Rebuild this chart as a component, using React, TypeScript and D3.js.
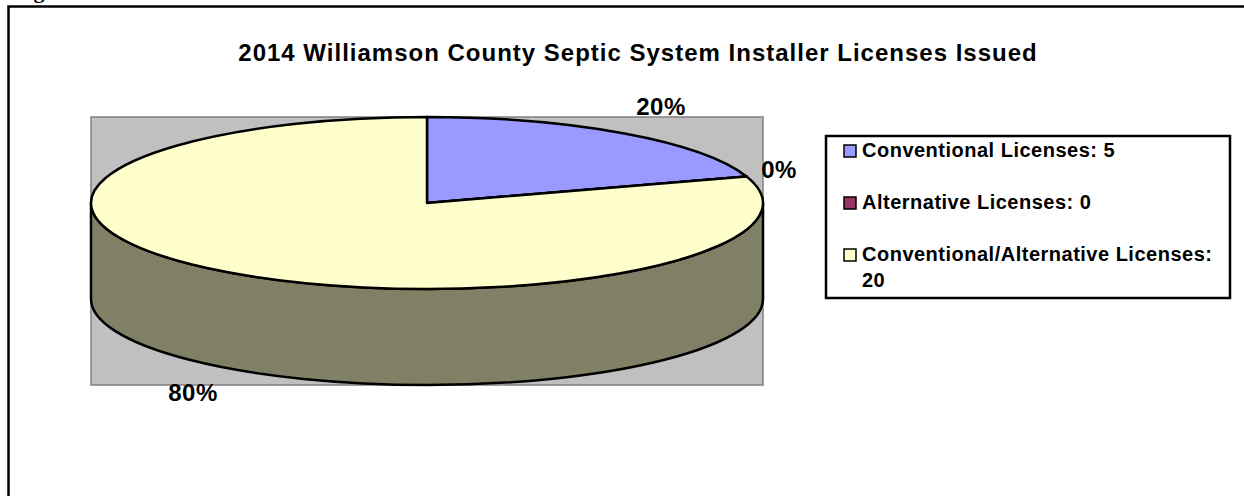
import React from "react";
import * as d3 from "d3";

const categories = ["Conventional Licenses", "Alternative Licenses", "Conventional/Alternative Licenses"];
const values = [5, 0, 20];
const legendLabels = ["Conventional Licenses: 5", "Alternative Licenses: 0", "Conventional/Alternative Licenses:", "20"];
const topColors = ["#9999ff", "#993366", "#ffffcc"];
const sideColor = "#808066";
const title = "2014 Williamson County Septic System Installer Licenses Issued";

const W = 1244;
const H = 496;
const plot = { x: 91, y: 117, w: 672, h: 268 };
const cx = plot.x + plot.w / 2;
const rx = plot.w / 2;
const ry = 86;
const cy = plot.y + ry;
const depth = 96;

export default function App() {
  const total = d3.sum(values);
  const pie = d3.pie<number>().sort(null).startAngle(0).endAngle(2 * Math.PI);
  const arcs = pie(values);
  const arcGen = d3.arc<d3.PieArcDatum<number>>().innerRadius(0).outerRadius(rx);
  const fmt = d3.format(".0%");

  const labelPos = [
    { x: 661, y: 115 },
    { x: 779, y: 178 },
    { x: 193, y: 401 },
  ];

  const sidePath = `M${cx + rx},${cy} A${rx},${ry} 0 0 1 ${cx - rx},${cy} L${cx - rx},${cy + depth} A${rx},${ry} 0 0 0 ${cx + rx},${cy + depth} Z`;

  const font = "'Liberation Sans', Arial, sans-serif";

  return (
    <svg width={W} height={H} style={{ position: "absolute", left: 0, top: 0, background: "#fff" }}>
      <text x={14} y={-2} fontFamily="'Liberation Serif', 'Times New Roman', serif" fontWeight="bold" fontSize={22}>Figure 2</text>
      <rect x={8.5} y={6.5} width={W + 20} height={H + 20} fill="none" stroke="#000" strokeWidth={2.5} />
      <text x={638} y={61} textAnchor="middle" fontFamily={font} fontWeight="bold" fontSize={24} letterSpacing={1}>{title}</text>
      <rect x={plot.x} y={plot.y} width={plot.w} height={plot.h} fill="#c0c0c0" stroke="#808080" strokeWidth={1.5} />
      <path d={sidePath} fill={sideColor} stroke="#000" strokeWidth={2.5} />
      <g transform={`translate(${cx},${cy}) scale(1,${ry / rx})`}>
        {arcs.map((a, i) => (
          <path key={i} d={arcGen(a) || ""} fill={topColors[i]} stroke="#000" strokeWidth={2.5} vectorEffect="non-scaling-stroke" strokeLinejoin="round" />
        ))}
      </g>
      {arcs.map((a, i) => (
        <text key={i} x={labelPos[i].x} y={labelPos[i].y} textAnchor="middle" fontFamily={font} fontWeight="bold" fontSize={24} letterSpacing={0.5}>
          {fmt(values[i] / total)}
        </text>
      ))}
      <rect x={826} y={136} width={404} height={162} fill="#fff" stroke="#000" strokeWidth={2.5} />
      {categories.map((c, i) => (
        <g key={c}>
          <rect x={844} y={145 + i * 52} width={12} height={12} fill={topColors[i]} stroke="#000" strokeWidth={1.5} />
          <text x={862} y={157 + i * 52} fontFamily={font} fontWeight="bold" fontSize={20} letterSpacing={0.5}>
            {legendLabels[i]}
          </text>
        </g>
      ))}
      <text x={862} y={287} fontFamily={font} fontWeight="bold" fontSize={20} letterSpacing={0.5}>{legendLabels[3]}</text>
    </svg>
  );
}
